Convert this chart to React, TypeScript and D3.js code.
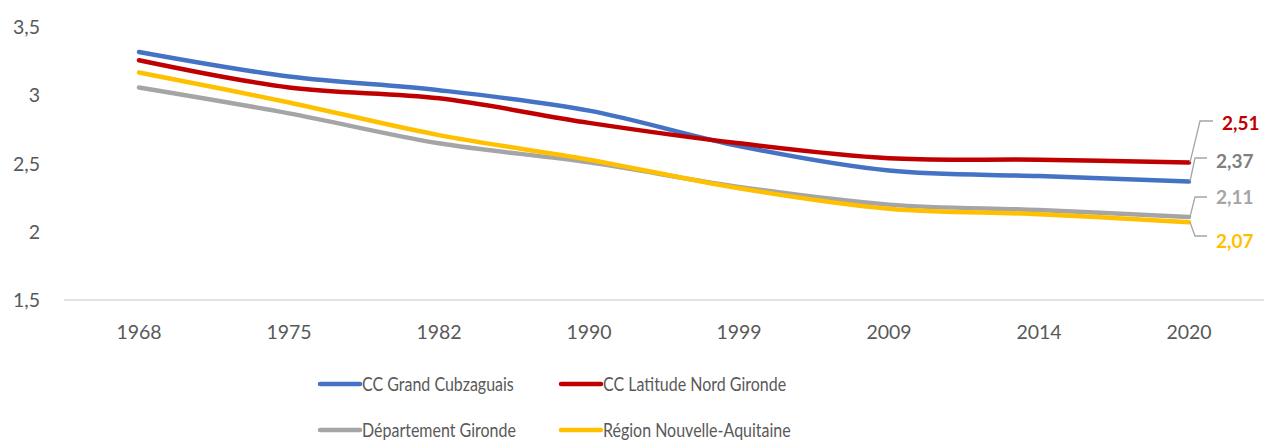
import React from "react";
import * as d3 from "d3";

const years = ["1968", "1975", "1982", "1990", "1999", "2009", "2014", "2020"];
const grandCubzaguais = [3.32, 3.14, 3.04, 2.89, 2.63, 2.45, 2.41, 2.37];
const latitudeNord = [3.26, 3.06, 2.98, 2.8, 2.65, 2.54, 2.53, 2.51];
const gironde = [3.06, 2.87, 2.65, 2.51, 2.33, 2.2, 2.16, 2.11];
const nouvelleAquitaine = [3.17, 2.95, 2.71, 2.53, 2.32, 2.17, 2.13, 2.07];
const yTicks = [1.5, 2, 2.5, 3, 3.5];

const series = [
  { name: "CC Grand Cubzaguais", values: grandCubzaguais, color: "#4472C4", labelColor: "#7F7F7F", label: "2,37", ly: 158, ty: 161 },
  { name: "CC Latitude Nord Gironde", values: latitudeNord, color: "#C00000", labelColor: "#C00000", label: "2,51", ly: 121, ty: 123.5 },
  { name: "Département Gironde", values: gironde, color: "#A5A5A5", labelColor: "#A5A5A5", label: "2,11", ly: 197, ty: 197.5 },
  { name: "Région Nouvelle-Aquitaine", values: nouvelleAquitaine, color: "#FFC000", labelColor: "#FFC000", label: "2,07", ly: 236, ty: 241.5 },
];

const W = 1266, H = 441;
const font = "Lato, 'Open Sans', sans-serif";

export default function App() {
  const x = d3.scaleBand<string>().domain(years).range([64, 1264]);
  const y = d3.scaleLinear().domain([1.5, 3.5]).range([300, 27.5]);
  const cx = (yr: string) => (x(yr) as number) + x.bandwidth() / 2;
  const line = d3
    .line<number>()
    .x((_, i) => cx(years[i]))
    .y((d) => y(d))
    .curve(d3.curveCardinal.tension(0));

  const lastX = cx(years[years.length - 1]);
  const legendItems = [
    { s: series[0], x: 320, y: 384 },
    { s: series[1], x: 561, y: 384 },
    { s: series[2], x: 320, y: 430 },
    { s: series[3], x: 561, y: 430 },
  ];

  return (
    <svg width={W} height={H} style={{ position: "absolute", left: 0, top: 0, background: "#fff" }}>
      {yTicks.map((t) => (
        <text key={t} x={40} y={y(t)} dy="0.35em" textAnchor="end" fontSize={19.5} fill="#595959" fontFamily={font}>
          {String(t).replace(".", ",")}
        </text>
      ))}
      <line x1={64} x2={1264} y1={y(1.5)} y2={y(1.5)} stroke="#D9D9D9" strokeWidth={1.5} />
      {years.map((yr) => (
        <text key={yr} x={cx(yr)} y={332} dy="0.35em" textAnchor="middle" fontSize={19.5} fill="#595959" fontFamily={font}>
          {yr}
        </text>
      ))}
      {series.map((s) => (
        <path key={s.name} d={line(s.values) || ""} fill="none" stroke={s.color} strokeWidth={4.5} strokeLinecap="round" />
      ))}
      {series.map((s) => {
        const py = y(s.values[s.values.length - 1]);
        const isRed = s.name === "CC Latitude Nord Gironde";
        const bx = isRed ? lastX + 11 : lastX + 6;
        const ex = isRed ? lastX + 24 : lastX + 18;
        return (
          <g key={s.name + "lbl"}>
            <polyline
              points={`${lastX + 1},${py} ${bx},${s.ly} ${ex},${s.ly}`}
              fill="none"
              stroke="#A5A5A5"
              strokeWidth={1.3}
            />
            <text
              x={isRed ? lastX + 33 : lastX + 27}
              y={s.ty}
              dy="0.35em"
              fontSize={19}
              fontWeight="bold"
              fill={s.labelColor}
              fontFamily={font}
            >
              {s.label}
            </text>
          </g>
        );
      })}
      {legendItems.map(({ s, x: lx, y: ly }) => (
        <g key={s.name + "leg"}>
          <line x1={lx} x2={lx + 40} y1={ly} y2={ly} stroke={s.color} strokeWidth={4.5} strokeLinecap="round" />
          <text
            transform={`translate(${lx + 42},${ly}) scale(0.82,1)`}
            dy="0.35em"
            fontSize={19.5}
            fill="#595959"
            fontFamily={font}
          >
            {s.name}
          </text>
        </g>
      ))}
    </svg>
  );
}
